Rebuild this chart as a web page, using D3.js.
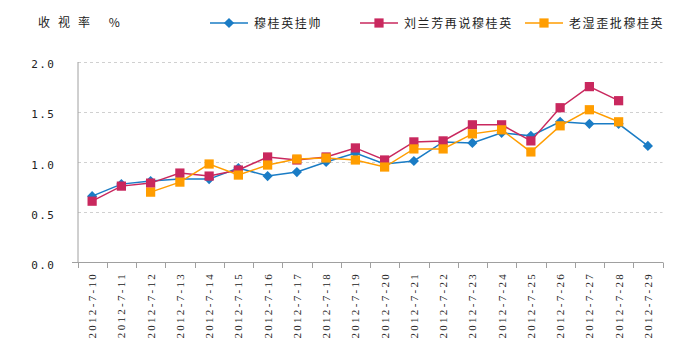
<!DOCTYPE html>
<html>
<head>
<meta charset="utf-8">
<script src="https://cdn.jsdelivr.net/npm/d3@7"></script>
<style>
  body { margin: 0; background: #fff; }
  svg { display: block; }
</style>
</head>
<body>
<div id="chart"></div>
<script>
  // data
  var dates = ['2012-7-10', '2012-7-11', '2012-7-12', '2012-7-13', '2012-7-14', '2012-7-15', '2012-7-16',
    '2012-7-17', '2012-7-18', '2012-7-19', '2012-7-20', '2012-7-21', '2012-7-22', '2012-7-23',
    '2012-7-24', '2012-7-25', '2012-7-26', '2012-7-27', '2012-7-28', '2012-7-29'];
  var seriesNames = ['穆桂英挂帅', '刘兰芳再说穆桂英', '老湿歪批穆桂英'];
  var blueVals = [0.66, 0.78, 0.81, 0.83, 0.83, 0.94, 0.86, 0.90, 1.00, 1.09, 0.98, 1.01, 1.20, 1.19,
    1.29, 1.26, 1.40, 1.38, 1.38, 1.16];
  var redVals = [0.61, 0.76, 0.79, 0.89, 0.86, 0.92, 1.05, 1.02, 1.05, 1.14, 1.02, 1.20, 1.21, 1.37,
    1.37, 1.21, 1.54, 1.75, 1.61, null];
  var orangeVals = [null, null, 0.70, 0.80, 0.98, 0.87, 0.97, 1.03, 1.04, 1.02, 0.95, 1.13, 1.13, 1.28,
    1.32, 1.10, 1.36, 1.52, 1.40, null];
  var yTicks = [0, 0.5, 1.0, 1.5, 2.0];
  var title = '收视率 %';

  var colors = ['#1a7cc5', '#c9285e', '#ff9d00'];
  var allSeries = [blueVals, redVals, orangeVals];

  var W = 700, H = 353;
  var svg = d3.select('#chart').append('svg').attr('width', W).attr('height', H);

  var x = d3.scaleBand().domain(dates).range([77.5, 662.5]);
  var y = d3.scaleLinear().domain([0, 2]).range([262.5, 61.5]);

  // marker: diamond is a square turned 45 degrees
  function marker(k) {
    return k === 0 ? d3.symbol().type(d3.symbolSquare).size(52)() : d3.symbol().type(d3.symbolSquare).size(85)();
  }
  function markerRot(k) { return k === 0 ? ' rotate(45)' : ''; }

  // grid
  svg.append('g').selectAll('line')
    .data(yTicks.filter(function (t) { return t > 0; }))
    .enter().append('line')
    .attr('x1', 78).attr('x2', 662.5)
    .attr('y1', function (d) { return Math.round(y(d)) + 0.5; })
    .attr('y2', function (d) { return Math.round(y(d)) + 0.5; })
    .attr('stroke', '#d0d0d0').attr('stroke-dasharray', '3,3');

  // y axis
  var yAxis = svg.append('g').attr('transform', 'translate(77.5,0)')
    .call(d3.axisLeft(y).tickValues(yTicks).tickSize(0).tickFormat(d3.format('.1f')));
  yAxis.select('.domain').attr('stroke', '#a0a0a0');
  yAxis.selectAll('text')
    .attr('x', -22).attr('dy', '0.55em')
    .style('font-family', '"DejaVu Sans Mono", monospace')
    .style('font-size', '11px').style('letter-spacing', '1.5px')
    .attr('fill', '#222');

  // x axis
  var xAxis = svg.append('g').attr('transform', 'translate(0,262.5)')
    .call(d3.axisBottom(x).tickSize(0).tickFormat(''));
  xAxis.select('.domain').attr('stroke', '#a0a0a0').attr('d', 'M72,0H663');
  var tickPos = x.domain().map(function (d) { return x(d); }).concat([x.range()[1]]);
  svg.append('g').selectAll('line').data(tickPos).enter().append('line')
    .attr('x1', function (d) { return Math.round(d) + 0.5; })
    .attr('x2', function (d) { return Math.round(d) + 0.5; })
    .attr('y1', 262.5).attr('y2', 268)
    .attr('stroke', '#a0a0a0');

  svg.append('g').selectAll('text').data(dates).enter().append('text')
    .attr('transform', function (d) {
      return 'translate(' + (x(d) + x.bandwidth() / 2 + 4) + ',272) rotate(-90)';
    })
    .attr('text-anchor', 'end')
    .style('font-family', '"Liberation Serif", serif')
    .style('font-size', '11px').style('letter-spacing', '2.3px')
    .attr('fill', '#222')
    .text(function (d) { return d; });

  // series
  var line = d3.line()
    .defined(function (d) { return d != null; })
    .x(function (d, i) { return x(dates[i]) + x.bandwidth() / 2; })
    .y(function (d) { return y(d); });

  allSeries.forEach(function (vals, k) {
    var g = svg.append('g');
    g.append('path').datum(vals)
      .attr('d', line).attr('fill', 'none')
      .attr('stroke', colors[k]).attr('stroke-width', 1.5);
    g.selectAll('path.pt')
      .data(vals.map(function (v, i) { return { v: v, i: i }; }).filter(function (d) { return d.v != null; }))
      .enter().append('path').attr('class', 'pt')
      .attr('d', marker(k))
      .attr('transform', function (d) {
        return 'translate(' + (x(dates[d.i]) + x.bandwidth() / 2) + ',' + y(d.v) + ')' + markerRot(k);
      })
      .attr('fill', colors[k]);
  });

  // title
  svg.append('text').attr('x', 38).attr('y', 27)
    .style('font-family', '"Noto Sans CJK SC", sans-serif')
    .style('font-size', '12px').style('letter-spacing', '8px')
    .attr('fill', '#222')
    .text(title);

  // legend
  var legendX = [210, 360, 525];
  seriesNames.forEach(function (name, k) {
    var lg = svg.append('g').attr('transform', 'translate(' + legendX[k] + ',23)');
    lg.append('line').attr('x1', 0).attr('x2', 38).attr('y1', 0).attr('y2', 0)
      .attr('stroke', colors[k]).attr('stroke-width', 1.5);
    lg.append('path')
      .attr('d', marker(k))
      .attr('transform', 'translate(19,0)' + markerRot(k)).attr('fill', colors[k]);
    lg.append('text').attr('x', 44).attr('y', 4.5)
      .style('font-family', '"Noto Sans CJK SC", sans-serif')
      .style('font-size', '12px').style('letter-spacing', '1.6px')
      .attr('fill', '#222')
      .text(name);
  });
</script>
</body>
</html>
